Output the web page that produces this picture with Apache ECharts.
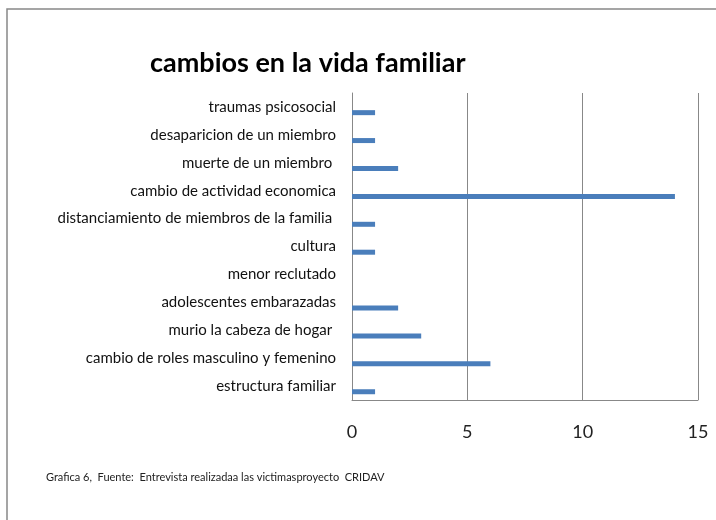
<!DOCTYPE html>
<html>
<head>
    <meta charset="utf-8">
    <title>cambios en la vida familiar</title>
    <script src="https://cdn.jsdelivr.net/npm/echarts@6.0.0/dist/echarts.min.js"></script>
    <style>
        html, body { margin: 0; padding: 0; background: #fff; }
    </style>
</head>
<body>
    <div id="chart" style="width: 716px;height:520px;"></div>
    <script type="text/javascript">
        // categorías (de arriba hacia abajo, como en la imagen)
        var categorias = [
            'traumas psicosocial',
            'desaparicion de un miembro',
            'muerte de un miembro ',
            'cambio de actividad economica',
            'distanciamiento de miembros de la familia ',
            'cultura',
            'menor reclutado',
            'adolescentes embarazadas',
            'murio la cabeza de hogar ',
            'cambio de roles masculino y femenino',
            'estructura familiar'
        ];
        var valores = [1, 1, 2, 14, 1, 1, 0, 2, 3, 6, 1];
        var vacios = categorias.map(function () { return null; });
        var ticksX = [0, 5, 10, 15];

        var fuente = 'Lato';

        var option = {
            animation: false,
            backgroundColor: '#ffffff',
            title: [
                {
                    text: 'cambios en la vida familiar',
                    left: 150,
                    top: 50,
                    padding: 0,
                    textStyle: { fontFamily: fuente, fontSize: 27, fontWeight: 'bold', color: '#000' }
                },
                {
                    text: 'Grafica 6,  Fuente:  Entrevista realizadaa las victimasproyecto  CRIDAV',
                    left: 46,
                    top: 472,
                    padding: 0,
                    textStyle: { fontFamily: fuente, fontSize: 11, fontWeight: 'normal', color: '#222' }
                }
            ],
            graphic: [
                {
                    type: 'polyline',
                    shape: { points: [[7, 520], [7, 9], [716, 9]] },
                    style: { stroke: '#888', lineWidth: 1.5, fill: null }
                }
            ],
            grid: { left: 352, right: 18, top: 93, bottom: 120, containLabel: false },
            xAxis: {
                type: 'value',
                min: ticksX[0],
                max: ticksX[ticksX.length - 1],
                interval: 5,
                axisLine: { show: true, lineStyle: { color: '#888', width: 1 } },
                axisTick: { show: false },
                splitLine: { show: true, lineStyle: { color: '#888', width: 1 } },
                axisLabel: { fontFamily: fuente, fontSize: 18, color: '#222', margin: 23 }
            },
            yAxis: {
                type: 'category',
                inverse: true,
                data: categorias,
                axisLine: { show: true, lineStyle: { color: '#888', width: 1 } },
                axisTick: { show: false },
                axisLabel: { fontFamily: fuente, fontSize: 15, color: '#111', margin: 16 }
            },
            series: [
                {
                    name: 'vacio',
                    type: 'bar',
                    data: vacios,
                    barWidth: 5,
                    barGap: '128%',
                    itemStyle: { color: '#4a7ebb' }
                },
                {
                    name: 'valor',
                    type: 'bar',
                    data: valores,
                    barWidth: 5,
                    barGap: '128%',
                    itemStyle: { color: '#4a7ebb' }
                }
            ]
        };

        var chart = echarts.init(document.getElementById('chart'));
        chart.setOption(option);
    </script>
</body>
</html>
